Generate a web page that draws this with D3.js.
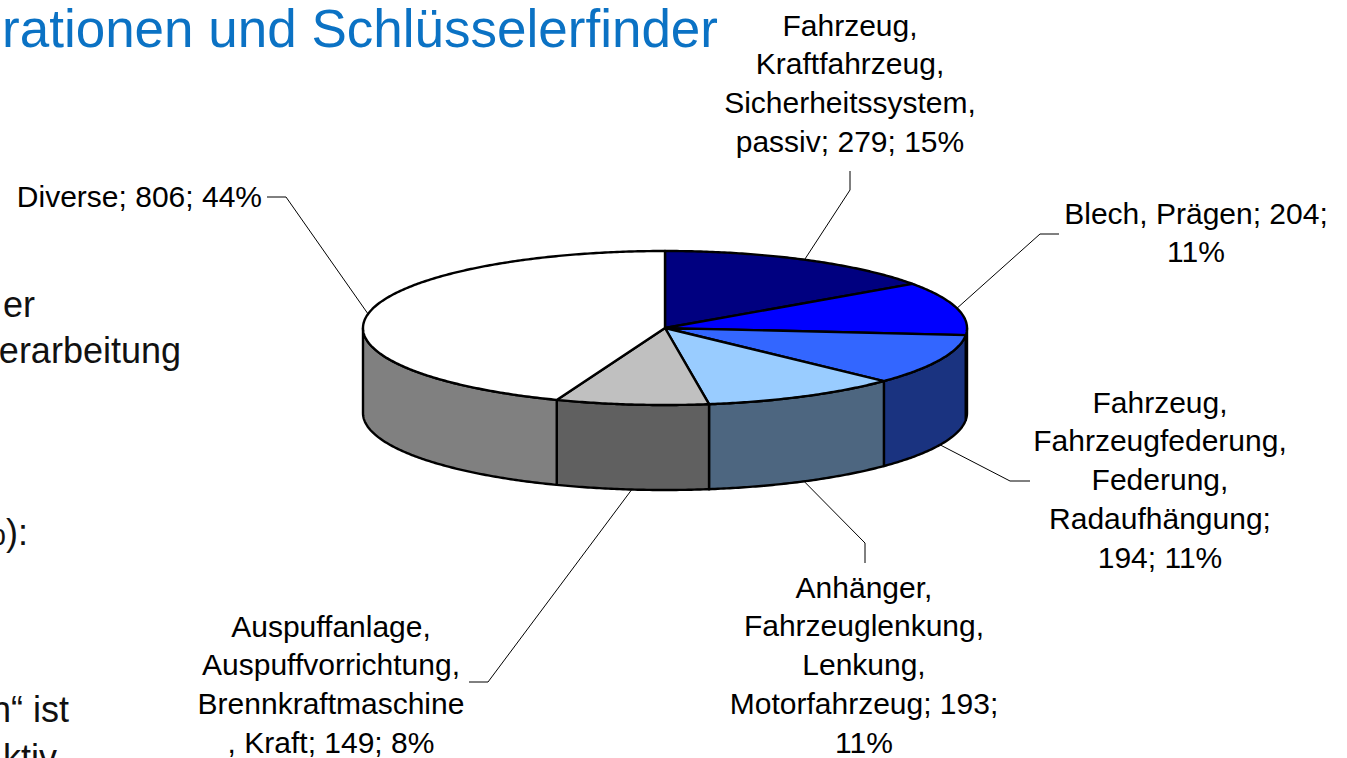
<!DOCTYPE html>
<html>
<head>
<meta charset="utf-8">
<script src="https://cdn.jsdelivr.net/npm/d3@7"></script>
<style>
  html, body { margin: 0; padding: 0; background: #fff; }
  svg { display: block; font-family: "Liberation Sans", Arial, sans-serif; }
</style>
</head>
<body>
<div id="chart"></div>
<script>
// Data
const categories = [
  "Fahrzeug, Kraftfahrzeug, Sicherheitssystem, passiv",
  "Blech, Prägen",
  "Fahrzeug, Fahrzeugfederung, Federung, Radaufhängung",
  "Anhänger, Fahrzeuglenkung, Lenkung, Motorfahrzeug",
  "Auspuffanlage, Auspuffvorrichtung, Brennkraftmaschine, Kraft",
  "Diverse"
];
const values = [279, 204, 194, 193, 149, 806];
const topColors = ["#000080", "#0000FF", "#3366FF", "#99CCFF", "#C0C0C0", "#FFFFFF"];

// label text as it wraps in the original
const labelLines = [
  ["Fahrzeug,", "Kraftfahrzeug,", "Sicherheitssystem,", "passiv; 279; 15%"],
  ["Blech, Prägen; 204;", "11%"],
  ["Fahrzeug,", "Fahrzeugfederung,", "Federung,", "Radaufhängung;", "194; 11%"],
  ["Anhänger,", "Fahrzeuglenkung,", "Lenkung,", "Motorfahrzeug; 193;", "11%"],
  ["Auspuffanlage,", "Auspuffvorrichtung,", "Brennkraftmaschine", ", Kraft; 149; 8%"],
  ["Diverse; 806; 44%"]
];

const titleText = "rationen und Schlüsselerfinder";
// fragments of the slide text that sit behind the chart
const slideFragments = ["er", "erarbeitung", "%):", "n\u201C ist", "ktiv"];

// Layout
const width = 1347, height = 758;
const cx = 665, cy = 328, rx = 302, ry = 77, depth = 85;

const labelLayout = [
  { x: 850,  y: 25,  anchor: "middle", elbow: [850, 190],  end: [850, 171] },
  { x: 1196, y: 213, anchor: "middle", elbow: [1040, 234], end: [1059, 234] },
  { x: 1160, y: 402, anchor: "middle", elbow: [1010, 481], end: [1030, 481] },
  { x: 864,  y: 587, anchor: "middle", elbow: [865, 543],  end: [865, 563] },
  { x: 331,  y: 626, anchor: "middle", elbow: [488, 682],  end: [469, 682] },
  { x: 262,  y: 196, anchor: "end",    elbow: [286, 197],  end: [267, 197] }
];
const fragmentLayout = [
  { x: 35, y: 317 }, { x: 181, y: 363 }, { x: 28, y: 545 }, { x: 69, y: 722 }, { x: 57, y: 770 }
];

const svg = d3.select("#chart").append("svg")
  .attr("width", width)
  .attr("height", height);

svg.append("rect").attr("width", width).attr("height", height).attr("fill", "#fff");

// Title + slide fragments
svg.append("text")
  .attr("x", 718).attr("y", 47)
  .attr("text-anchor", "end")
  .attr("font-size", 53)
  .attr("fill", "#0B72C4")
  .text(titleText);

svg.selectAll("text.frag")
  .data(slideFragments)
  .join("text")
  .attr("class", "frag")
  .attr("x", (d, i) => fragmentLayout[i].x)
  .attr("y", (d, i) => fragmentLayout[i].y)
  .attr("text-anchor", "end")
  .attr("font-size", 36)
  .attr("fill", "#111")
  .text(d => d);

// Pie
const pie = d3.pie().sort(null).startAngle(0).endAngle(2 * Math.PI);
const arcs = pie(values);

const pt = (a, dy = 0) => [cx + rx * Math.sin(a), cy - ry * Math.cos(a) + dy];
const arcPoints = (a0, a1, dy = 0) => {
  const n = Math.max(2, Math.ceil((a1 - a0) / 0.01));
  return d3.range(n + 1).map(i => pt(a0 + (a1 - a0) * i / n, dy));
};
const line = d3.line();
const sideColor = c => {
  const col = d3.rgb(c);
  return d3.rgb(col.r * 0.5, col.g * 0.5, col.b * 0.5).formatHex();
};

const g = svg.append("g");

// outer walls, only the front half is visible
const sides = arcs.map((d, i) => {
  const a0 = Math.max(d.startAngle, Math.PI / 2);
  const a1 = Math.min(d.endAngle, 3 * Math.PI / 2);
  return a1 > a0 ? { i, a0, a1 } : null;
}).filter(Boolean);

g.selectAll("path.side")
  .data(sides)
  .join("path")
  .attr("class", "side")
  .attr("d", s => line(arcPoints(s.a0, s.a1).concat(arcPoints(s.a0, s.a1, depth).reverse())) + "Z")
  .attr("fill", s => sideColor(topColors[s.i]))
  .attr("stroke", "#000")
  .attr("stroke-width", 2.4)
  .attr("stroke-linejoin", "round");

// top faces
g.selectAll("path.top")
  .data(arcs)
  .join("path")
  .attr("class", "top")
  .attr("d", d => line([[cx, cy]].concat(arcPoints(d.startAngle, d.endAngle))) + "Z")
  .attr("fill", (d, i) => topColors[i])
  .attr("stroke", "#000")
  .attr("stroke-width", 2.4)
  .attr("stroke-linejoin", "round");

// Leader lines
const anchorOf = d => {
  const a = (d.startAngle + d.endAngle) / 2;
  return Math.cos(a) < 0 ? pt(a, depth) : pt(a);
};

svg.selectAll("path.leader")
  .data(arcs)
  .join("path")
  .attr("class", "leader")
  .attr("d", (d, i) => line([anchorOf(d), labelLayout[i].elbow, labelLayout[i].end]))
  .attr("fill", "none")
  .attr("stroke", "#000")
  .attr("stroke-width", 1);

// Labels
const lineH = 38.8;
const labels = svg.selectAll("text.label")
  .data(arcs)
  .join("text")
  .attr("class", "label")
  .attr("font-size", 30)
  .attr("fill", "#000")
  .attr("text-anchor", (d, i) => labelLayout[i].anchor);

labels.selectAll("tspan")
  .data((d, i) => labelLines[i].map((t, k) => ({ t, k, i })))
  .join("tspan")
  .attr("x", d => labelLayout[d.i].x)
  .attr("y", d => labelLayout[d.i].y + d.k * lineH)
  .attr("dominant-baseline", "central")
  .text(d => d.t);
</script>
</body>
</html>
